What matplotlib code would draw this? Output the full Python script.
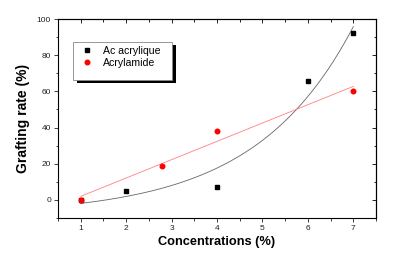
import numpy as np
import matplotlib
matplotlib.use("Agg")
import matplotlib.pyplot as plt
from matplotlib.ticker import MultipleLocator
from matplotlib.patches import Rectangle

plt.rcParams['font.family'] = ['Liberation Sans', 'DejaVu Sans']

# Data
x_acide = [1, 2, 4, 6, 7]
y_acide = [0, 4.8, 7.4, 65.9, 92.4]
x_amide = [1, 2.8, 4, 7]
y_amide = [0, 19, 38, 60.3]
labels = ["Ac acrylique", "Acrylamide"]

xa = np.array(x_acide, float); ya = np.array(y_acide, float)
xb = np.array(x_amide, float); yb = np.array(y_amide, float)

# Exponential growth fit y = y0 + A*exp(x/t)
best = None
for t in np.linspace(0.3, 10, 2000):
    M = np.column_stack([np.ones_like(xa), np.exp(xa / t)])
    coef, *_ = np.linalg.lstsq(M, ya, rcond=None)
    sse = np.sum((M @ coef - ya) ** 2)
    if best is None or sse < best[0]:
        best = (sse, t, coef)
_, tb, cb = best
xf = np.linspace(1, 7, 200)
yf_exp = cb[0] + cb[1] * np.exp(xf / tb)

# Linear fit
p = np.polyfit(xb, yb, 1)
yf_lin = np.polyval(p, xf)

W, H = 398, 264
fig = plt.figure(figsize=(W/100, H/100), dpi=100)
ax = fig.add_axes([58/W, 1 - 218/H, (376-58)/W, (218-19)/H])

ax.plot(xf, yf_exp, color='#666666', lw=0.6)
ax.plot(xf, yf_lin, color='#ff8080', lw=0.6)
ax.plot(xa, ya, 's', color='black', ms=3.0, label=labels[0], zorder=3)
ax.plot(xb, yb, 'o', color='red', ms=3.3, label=labels[1], zorder=4)

ax.set_xlim(0.5, 7.5)
ax.set_ylim(-10, 100)
ax.xaxis.set_major_locator(MultipleLocator(1))
ax.xaxis.set_minor_locator(MultipleLocator(0.5))
ax.yaxis.set_major_locator(MultipleLocator(20))
ax.yaxis.set_minor_locator(MultipleLocator(10))
ax.tick_params(which='both', direction='out', labelsize=6, width=0.6, pad=2,
               colors='#222222')
ax.tick_params(which='major', length=3)
ax.tick_params(which='minor', length=1.8)

sx = ax.secondary_xaxis('top')
sx.xaxis.set_major_locator(MultipleLocator(1))
sx.xaxis.set_minor_locator(MultipleLocator(0.5))
sx.tick_params(which='both', direction='in', labeltop=False, width=0.6)
sx.tick_params(which='major', length=3)
sx.tick_params(which='minor', length=1.8)
sy = ax.secondary_yaxis('right')
sy.yaxis.set_major_locator(MultipleLocator(20))
sy.yaxis.set_minor_locator(MultipleLocator(10))
sy.tick_params(which='both', direction='in', labelright=False, width=0.6)
sy.tick_params(which='major', length=3)
sy.tick_params(which='minor', length=1.8)

for s in ax.spines.values():
    s.set_linewidth(0.8)
sx.spines['top'].set_linewidth(0.8)
sy.spines['right'].set_linewidth(0.8)

ax.set_xlabel("Concentrations (%)", fontsize=9.2, fontweight='bold', labelpad=3)
ax.set_ylabel("Grafting rate (%)", fontsize=10, fontweight='bold', labelpad=5)

# Legend box with solid black shadow (figure pixel coordinates)
bx0, by0, bx1, by1 = 73, 42, 172, 80
fig.patches.append(Rectangle(((bx0+4)/W, 1-(by1+3)/H), (bx1-bx0)/W, (by1-by0)/H,
                             transform=fig.transFigure, facecolor='black',
                             edgecolor='none', zorder=5))
fig.patches.append(Rectangle((bx0/W, 1-by1/H), (bx1-bx0)/W, (by1-by0)/H,
                             transform=fig.transFigure, facecolor='white',
                             edgecolor='#888888', lw=0.6, zorder=6))

fs = 7.6
fs_px = fs * 100 / 72
leg = fig.legend(loc='upper left',
                 bbox_to_anchor=((87 - fs_px*0.5)/W, 1 - 46/H),
                 fontsize=fs, frameon=False, borderpad=0, borderaxespad=0,
                 handlelength=1.0, handletextpad=1.0, labelspacing=0.15)
leg.set_zorder(7)

fig.savefig("out.png", dpi=100)
